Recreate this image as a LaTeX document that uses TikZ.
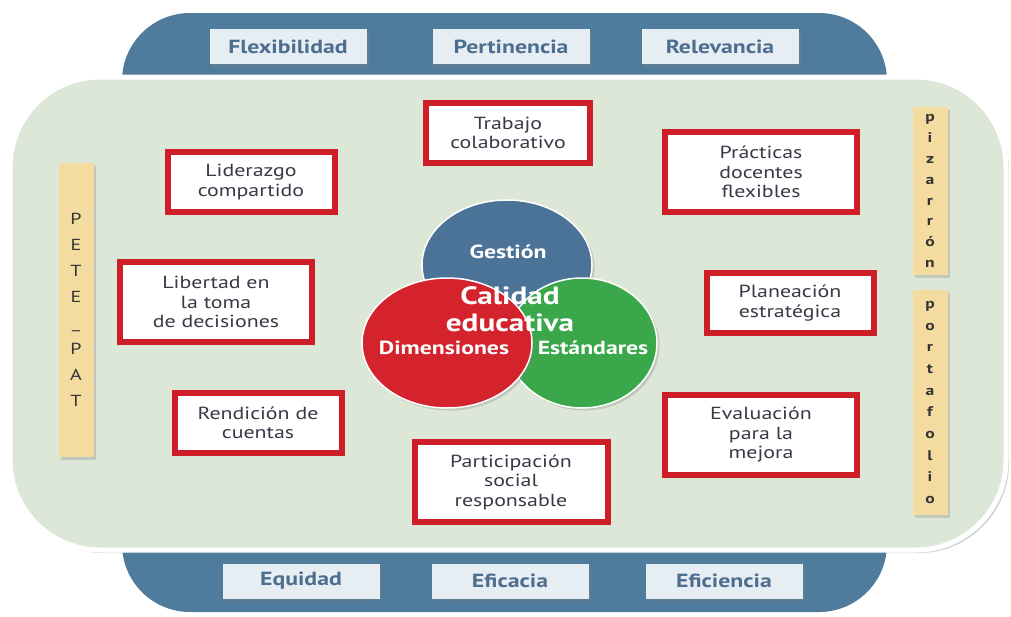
\documentclass[tikz,border=0pt]{standalone}
\usepackage{fontspec}
\setmainfont{PT Sans}[FakeStretch=1.25]
\usetikzlibrary{shadows,shapes.geometric}

\definecolor{frameblue}{RGB}{79,124,156}
\definecolor{tagfill}{RGB}{230,237,243}
\definecolor{tagtext}{RGB}{77,110,142}
\definecolor{boxred}{RGB}{206,30,40}
\definecolor{boxtext}{RGB}{55,58,70}
\definecolor{panelgreen}{RGB}{221,231,216}
\definecolor{bartan}{RGB}{244,220,160}
\definecolor{circblue}{RGB}{74,115,151}
\definecolor{circred}{RGB}{212,35,45}
\definecolor{circgreen}{RGB}{58,168,74}

\tikzset{
  tag/.style={fill=tagfill, text=tagtext, font=\fontsize{19}{21}\selectfont\bfseries,
    minimum width=157, minimum height=35, drop shadow={opacity=0.35}},
  redbox/.style={draw=boxred, line width=6pt, fill=white, text=boxtext,
    align=center, font=\fontsize{17.5}{19.5}\selectfont, inner sep=4pt,
    drop shadow={opacity=0.3}},
  letterbar/.style={fill=bartan, minimum width=35, align=center, text=black!80,
    drop shadow={opacity=0.3}},
  ring/.style={ellipse, draw=white, line width=1.5pt, minimum height=130},
  ringtext/.style={text=white, font=\fontsize{19}{21}\selectfont\bfseries}
}

\begin{document}
\begin{tikzpicture}[x=1pt,y=1pt,yscale=-1]
  \useasboundingbox (0,0) rectangle (1011,616);

  % blue frame behind the panel
  \fill[frameblue, rounded corners=68] (122,13) rectangle (887,612);

  % green panel
  \draw[white, line width=5pt, fill=panelgreen, rounded corners=90,
    drop shadow={opacity=0.35, shadow xshift=3pt, shadow yshift=-3pt}]
    (10,77) rectangle (1006,550);

  % tags on the frame (top and bottom)
  \node[tag] (flex) at (288,46.5) {Flexibilidad};
  \node[tag] (pert) at (511,46.5) {Pertinencia};
  \node[tag] (relev) at (720,46.5) {Relevancia};
  \node[tag] (equid) at (301,581) {Equidad};
  \node[tag] (efica) at (510,581) {Eficacia};
  \node[tag] (efici) at (724,581) {Eficiencia};

  % vertical letter bars
  \node[letterbar, minimum height=294, font=\fontsize{16}{26}\selectfont]
    (petepat) at (76,310) {P\\E\\T\\E\\\_\\P\\A\\T};
  \node[letterbar, minimum height=168, font=\fontsize{14}{20.9}\selectfont\bfseries]
    (pizarron) at (930,191) {p\\i\\z\\a\\r\\r\\ó\\n};
  \node[letterbar, minimum height=225, font=\fontsize{14}{21.7}\selectfont\bfseries]
    (portafolio) at (930,402.5) {p\\o\\r\\t\\a\\f\\o\\l\\i\\o};

  % red boxes
  \node[redbox, minimum width=164, minimum height=60] (trabajo) at (508,133) {Trabajo\\colaborativo};
  \node[redbox, minimum width=167, minimum height=60] (liderazgo) at (251,182) {Liderazgo\\compartido};
  \node[redbox, minimum width=192, minimum height=80] (practicas) at (761,172) {Prácticas\\docentes\\flexibles};
  \node[redbox, minimum width=192, minimum height=80] (libertad) at (216,302) {Libertad en\\la toma\\de decisiones};
  \node[redbox, minimum width=167, minimum height=60] (planeacion) at (790,303) {Planeación\\estratégica};
  \node[redbox, minimum width=167, minimum height=60] (rendicion) at (258,423) {Rendición de\\cuentas};
  \node[redbox, minimum width=192, minimum height=80] (evaluacion) at (761,435) {Evaluación\\para la\\mejora};
  \node[redbox, minimum width=193, minimum height=80] (participacion) at (511,482) {Participación\\social\\responsable};

  % ellipses in the middle
  \node[ring, minimum width=170, fill=circblue, drop shadow={opacity=0.3}] (gestion) at (507,265) {};
  \node[ring, minimum width=150, fill=circgreen, drop shadow={opacity=0.3}] (estandares) at (582,343) {};
  \node[ring, minimum width=170, fill=circred, drop shadow={opacity=0.3}] (dimensiones) at (447,343) {};
  \node[ringtext] (lblgestion) at (508,252) {Gestión};
  \node[ringtext] (lbldim) at (444,348) {Dimensiones};
  \node[ringtext] (lblest) at (593,348) {Estándares};
  \node[text=white, align=center, font=\fontsize{25}{27}\selectfont\bfseries]
    (calidad) at (510,309) {Calidad\\educativa};
\end{tikzpicture}
\end{document}
